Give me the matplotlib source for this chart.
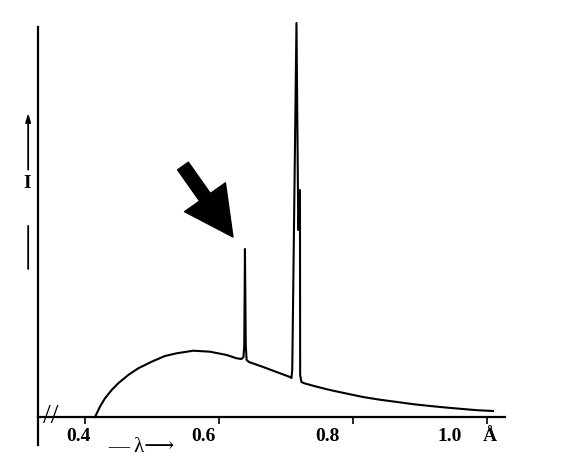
import matplotlib.pyplot as plt

# wavelength (Angstrom) and intensity (arbitrary units)
wavelength = [0.415, 0.4224, 0.4299, 0.4399, 0.4497, 0.4646, 0.4796, 0.4996, 0.5194, 0.5369,
              0.5616, 0.5866, 0.6115, 0.6264,
              0.6336, 0.6366, 0.6378, 0.6388, 0.6400, 0.6413, 0.6448, 0.666, 0.686, 0.706,
              0.7082, 0.7094, 0.7157, 0.7184, 0.7209, 0.7212, 0.7231, 0.7273, 0.7458, 0.7657,
              0.790, 0.815, 0.840, 0.866, 0.890, 0.915, 0.940, 0.964, 0.985, 1.009]
intensity = [0, 10.3, 18.7, 27, 33.7, 42, 48.7, 55.3, 61, 63.7,
             66.3, 65.3, 62, 58.7,
             58, 60, 72, 168, 72, 57, 55, 50, 45, 40,
             39, 47, 394, 187, 227, 42, 35, 33.7, 30.3, 27,
             23.5, 20, 17.3, 15, 12.8, 11, 9.4, 8, 6.8, 6]

# tick marks sit at the real values, the printed labels are shifted left
tick_values = [0.4, 0.6, 0.8, 1.0]
tick_label_pos = [0.3896, 0.5761, 0.7612, 0.9448]
tick_labels = ["0.4", "0.6", "0.8", "1.0"]

plt.rcParams['font.family'] = ['Liberation Serif', 'DejaVu Serif']

fig = plt.figure(figsize=(5.66, 4.73), dpi=100)
ax = fig.add_axes([0.0671, 0.0592, 0.8251, 0.8943])

ax.plot(wavelength, intensity, color='black', linewidth=1.5, solid_joinstyle='round')

ax.set_xlim(0.3299, 1.0269)
ax.set_ylim(-28, 395)

ax.spines['top'].set_visible(False)
ax.spines['right'].set_visible(False)
ax.spines['bottom'].set_position(('data', 0))
ax.spines['left'].set_bounds(-28, 390)
for s in ['left', 'bottom']:
    ax.spines[s].set_linewidth(1.6)

ax.set_yticks([])
ax.set_xticks(tick_label_pos)
ax.set_xticklabels(tick_labels, fontsize=14, fontweight='bold')
ax.tick_params(axis='x', which='major', length=0, pad=8)
ax.set_xticks(tick_values, minor=True)
ax.tick_params(axis='x', which='minor', length=5, width=1.2, direction='out')

# axis break
ax.text(0.3485, 0, '//', ha='center', va='center', fontsize=20)

# unit and axis labels
fig.text(490 / 566, 1 - 436 / 473, 'Å', ha='center', va='center', fontsize=14, fontweight='bold')
fig.text(141 / 566, 1 - 447 / 473, '— λ⟶', ha='center', va='center', fontsize=15)
fig.text(27 / 566, 1 - 183 / 473, 'I', ha='center', va='center', fontsize=14, fontweight='bold')

# arrows beside the I label
ax.annotate('', xy=(-0.021, 0.785), xytext=(-0.021, 0.651), xycoords='axes fraction',
            arrowprops=dict(arrowstyle='-|>,head_length=0.5,head_width=0.15', color='black',
                            linewidth=1.3, shrinkA=0, shrinkB=0))
ax.annotate('', xy=(-0.021, 0.518), xytext=(-0.021, 0.416), xycoords='axes fraction',
            arrowprops=dict(arrowstyle='-', color='black', linewidth=1.3, shrinkA=0, shrinkB=0))

# big arrow pointing at the K-beta line
ax.annotate('', xy=(0.6209, 180), xytext=(0.5463, 251),
            arrowprops=dict(arrowstyle='simple,head_length=3.5,head_width=3.6,tail_width=0.95',
                            mutation_scale=10, fc='black', ec='black', shrinkA=0, shrinkB=0))

fig.savefig('out.png', dpi=100)
